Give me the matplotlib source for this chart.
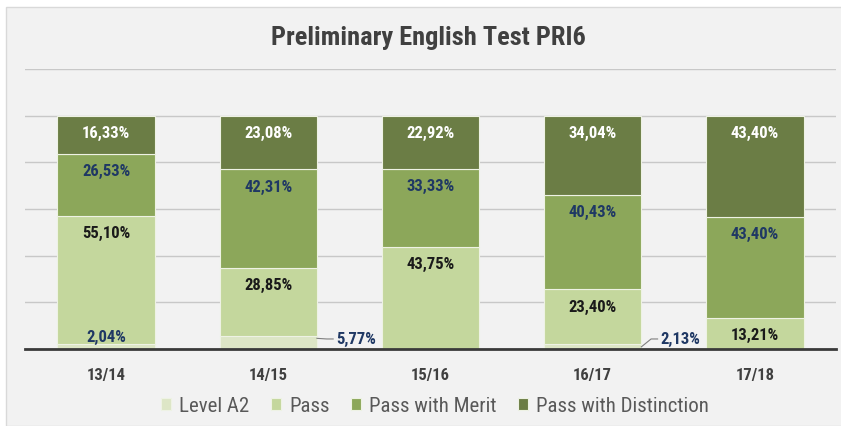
import matplotlib
matplotlib.use("Agg")
import matplotlib.pyplot as plt
from matplotlib import font_manager
import numpy as np

names = sorted(set(f.name for f in font_manager.fontManager.ttflist))
narrow = "Liberation Sans Narrow" if "Liberation Sans Narrow" in names else "Roboto Condensed" if "Roboto Condensed" in names else "Liberation Sans"
plt.rcParams["font.family"] = [narrow, "DejaVu Sans"]

years = ["13/14", "14/15", "15/16", "16/17", "17/18"]
level_a2 = [2.04, 5.77, 0, 2.13, 0]
pass_ = [55.10, 28.85, 43.75, 23.40, 13.21]
merit = [26.53, 42.31, 33.33, 40.43, 43.40]
distinction = [16.33, 23.08, 22.92, 34.04, 43.40]

series = [("Level A2", level_a2, "#dde6c6", "#1f3864"),
          ("Pass", pass_, "#c4d79d", "#1a1a1a"),
          ("Pass with Merit", merit, "#8ca75a", "#1f3864"),
          ("Pass with Distinction", distinction, "#6b7d45", "white")]

bg = "#f2f2f2"
fig = plt.figure(figsize=(8.41, 4.27), dpi=100, facecolor="white")
fig.patches.append(plt.Rectangle((6 / 841, 0), 1, 1 - 8 / 427, transform=fig.transFigure,
                                 facecolor=bg, edgecolor="#d9d9d9", lw=1, zorder=-1))
ax = fig.add_axes([25 / 841, 77 / 427, 811 / 841, 280 / 427])
ax.set_facecolor(bg)

x = np.arange(len(years))
bottom = np.zeros(len(years))
for name, vals, col, tcol in series:
    vals = np.array(vals)
    ax.bar(x, vals, 0.6, bottom=bottom, color=col, edgecolor="#eef2e4", lw=0.8,
           label=name, zorder=3)
    for i, v in enumerate(vals):
        if v == 0:
            continue
        lbl = f"{v:.2f}%".replace(".", ",")
        top = bottom[i] + v
        if name == "Level A2":
            if i == 0:
                ax.text(i, 5.5, lbl, ha="center", va="center", fontsize=12,
                        fontweight="bold", color=tcol, zorder=4)
                continue
            ax.plot([i + 0.3, i + 0.36, i + 0.4], [top - 1.2, 4.3, 4.3],
                    color="#7f7f7f", lw=0.8, zorder=4)
            ax.text(i + 0.42, 4.3, lbl, ha="left", va="center", fontsize=12,
                    fontweight="bold", color=tcol, zorder=4)
        else:
            ax.annotate(lbl, (i, top), xytext=(0, -12), textcoords="offset points",
                        ha="center", va="center", fontsize=12, fontweight="bold",
                        color=tcol, zorder=4)
    bottom += vals

ax.set_xlim(-0.5, 4.5)
ax.set_ylim(0, 120)
ax.set_yticks(np.arange(0, 121, 20))
ax.yaxis.grid(True, color="#c8c8c8", lw=1, zorder=0)
ax.tick_params(axis="y", left=False, labelleft=False)
ax.tick_params(axis="x", length=0, pad=13)
ax.set_xticks(x)
ax.set_xticklabels(years, fontsize=12, fontweight="bold", color="#404040")
for s in ["top", "right", "left"]:
    ax.spines[s].set_visible(False)
ax.spines["bottom"].set_color("#3a3a3a")
ax.spines["bottom"].set_linewidth(2)
ax.spines["bottom"].set_zorder(5)

fig.text(428 / 841, 1 - 38 / 427, "Preliminary English Test PRI6", ha="center", va="center",
         fontsize=19, fontweight="bold", color="#404040")

ax.legend(loc="center", bbox_to_anchor=(435 / 841, 1 - 407 / 427), bbox_transform=fig.transFigure,
          ncol=4, frameon=False, fontsize=15, handlelength=0.5, handleheight=0.5,
          handletextpad=0.4, columnspacing=1.0, labelcolor="#595959")

fig.savefig("out.png", dpi=100, facecolor="white")
